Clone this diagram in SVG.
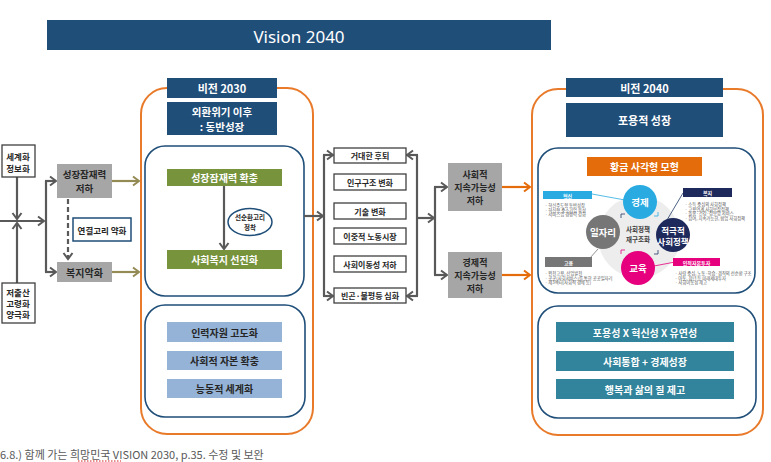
<svg xmlns="http://www.w3.org/2000/svg" width="771" height="462" viewBox="0 0 771 462">
<defs>
<style>
text{font-family:"Noto Sans CJK KR","Noto Sans",sans-serif;text-anchor:middle;dominant-baseline:central}
.w{fill:#fff;font-weight:bold}
.k{fill:#262626;font-weight:bold}
.navy{fill:#1f4e79}
.orange{fill:none;stroke:#e87a2a;stroke-width:2}
.inner{fill:#fff;stroke:#1f4e79;stroke-width:1.6}
.gray{fill:#a6a6a6}
.wbox{fill:#fff;stroke:#404040;stroke-width:1.3}
.green{fill:#77933c}
.lblue{fill:#95b3d7}
.teal{fill:#31849b}
.c{fill:none;stroke:#595959;stroke-width:2.2}
.ol{fill:none;stroke:#948a54;stroke-width:2.2}
.or{fill:none;stroke:#e46c0a;stroke-width:2.2}
.bul{font-size:4.3px;fill:#555;text-anchor:start;font-weight:normal}
.thin{fill:none;stroke-width:0.8}
</style>
<marker id="ag" markerUnits="userSpaceOnUse" markerWidth="12" markerHeight="12" refX="8" refY="6" orient="auto"><path d="M2,1.5 L8,6 L2,10.5" fill="none" stroke="#595959" stroke-width="2"/></marker>
<marker id="ao" markerUnits="userSpaceOnUse" markerWidth="12" markerHeight="12" refX="8" refY="6" orient="auto"><path d="M2,1.5 L8,6 L2,10.5" fill="none" stroke="#948a54" stroke-width="2"/></marker>
<marker id="ar" markerUnits="userSpaceOnUse" markerWidth="12" markerHeight="12" refX="8" refY="6" orient="auto"><path d="M2,1.5 L8,6 L2,10.5" fill="none" stroke="#e46c0a" stroke-width="2"/></marker>
</defs>
<rect width="771" height="462" fill="#fff"/>

<g id="title">
<rect x="47" y="20" width="504" height="30" class="navy"/>
<text x="299" y="36" style="font-family:'Noto Sans',sans-serif;font-size:17px;fill:#fff">Vision 2040</text>
</g>

<!-- frames -->
<g id="frame2030">
<rect x="141" y="88" width="172" height="346" rx="26" class="orange"/>
<rect x="145" y="146" width="159" height="150" rx="20" class="inner"/>
<rect x="145" y="305" width="160" height="112" rx="20" class="inner"/>
</g>
<g id="frame2040">
<rect x="532" y="89" width="231" height="346" rx="26" class="orange"/>
<rect x="538" y="148" width="217" height="145" rx="20" class="inner"/>
<rect x="538" y="306" width="218" height="112" rx="20" class="inner"/>
</g>

<!-- connectors -->
<g id="connectors">
<line x1="17" y1="177" x2="17" y2="219" class="c" marker-end="url(#ag)"/>
<line x1="17" y1="283" x2="17" y2="223" class="c" marker-end="url(#ag)"/>
<line x1="0" y1="221" x2="44" y2="221" class="c" marker-end="url(#ag)"/>
<line x1="46" y1="181" x2="46" y2="272" class="c"/>
<line x1="45" y1="181" x2="56" y2="181" class="c" marker-end="url(#ag)"/>
<line x1="45" y1="272" x2="56" y2="272" class="c" marker-end="url(#ag)"/>
<line x1="68" y1="199" x2="68" y2="259" class="c" stroke-dasharray="5,3" marker-end="url(#ag)"/>
<line x1="112" y1="181" x2="139" y2="181" class="ol" marker-end="url(#ao)"/>
<line x1="112" y1="272" x2="139" y2="272" class="ol" marker-end="url(#ao)"/>
<line x1="224" y1="186" x2="224" y2="249" class="c" marker-end="url(#ag)"/>
<line x1="304" y1="216" x2="323" y2="216" class="c" marker-end="url(#ag)"/>
<line x1="324" y1="155" x2="324" y2="296" class="c"/>
<line x1="323" y1="155" x2="333" y2="155" class="c" marker-end="url(#ag)"/>
<line x1="323" y1="296" x2="333" y2="296" class="c" marker-end="url(#ag)"/>
<line x1="417" y1="155" x2="417" y2="296" class="c"/>
<line x1="418" y1="155" x2="407" y2="155" class="c" marker-end="url(#ag)"/>
<line x1="418" y1="296" x2="407" y2="296" class="c" marker-end="url(#ag)"/>
<line x1="417" y1="218" x2="434" y2="218" class="c" marker-end="url(#ag)"/>
<line x1="435" y1="187" x2="435" y2="275" class="c"/>
<line x1="434" y1="187" x2="447" y2="187" class="c" marker-end="url(#ag)"/>
<line x1="434" y1="275" x2="447" y2="275" class="c" marker-end="url(#ag)"/>
<line x1="502" y1="187" x2="530" y2="187" class="or" marker-end="url(#ar)"/>
<line x1="502" y1="275" x2="530" y2="275" class="or" marker-end="url(#ar)"/>
</g>

<!-- left nodes -->
<g id="n-globalization">
<rect x="2" y="145" width="33" height="32" class="wbox"/>
<text x="18" y="156" class="k" style="font-size:8.5px">세계화</text>
<text x="18" y="168" class="k" style="font-size:8.5px">정보화</text>
</g>
<g id="n-aging">
<rect x="2" y="283" width="33" height="40" class="wbox"/>
<text x="18" y="292" class="k" style="font-size:8.5px">저출산</text>
<text x="18" y="303" class="k" style="font-size:8.5px">고령화</text>
<text x="18" y="314" class="k" style="font-size:8.5px">양극화</text>
</g>
<g id="n-growth-down">
<rect x="57" y="164" width="55" height="34" class="gray"/>
<text x="84.5" y="174" class="k" style="font-size:9.5px">성장잠재력</text>
<text x="84.5" y="188" class="k" style="font-size:9.5px">저하</text>
</g>
<g id="n-link">
<rect x="73" y="218" width="58" height="23" fill="#fff" stroke="#1f4e79" stroke-width="1.5"/>
<text x="102" y="229.5" class="k" style="font-size:8.5px">연결고리 약화</text>
</g>
<g id="n-welfare-down">
<rect x="57" y="262" width="55" height="20" class="gray"/>
<text x="84.5" y="272" class="k" style="font-size:10px">복지악화</text>
</g>

<!-- vision 2030 -->
<g id="n-v2030">
<rect x="167" y="78" width="110" height="20" class="navy"/>
<text x="222" y="88" class="w" style="font-size:11px">비전 2030</text>
</g>
<g id="n-v2030-sub">
<rect x="167" y="102" width="110" height="33" class="navy"/>
<text x="222" y="111" class="w" style="font-size:10.5px">외환위기 이후</text>
<text x="222" y="126.5" class="w" style="font-size:10.5px">: 동반성장</text>
</g>
<g id="n-growth-up">
<rect x="167" y="169" width="115" height="17" class="green"/>
<text x="224.5" y="177.5" class="w" style="font-size:10px">성장잠재력 확충</text>
</g>
<g id="n-virtuous">
<ellipse cx="250" cy="222" rx="22" ry="13.5" fill="#fff" stroke="#1f4e79" stroke-width="1.5"/>
<text x="250" y="217" class="k" style="font-size:6.5px">선순환고리</text>
<text x="250" y="227" class="k" style="font-size:6.5px">정착</text>
</g>
<g id="n-welfare-up">
<rect x="167" y="250" width="115" height="19" class="green"/>
<text x="224.5" y="259.5" class="w" style="font-size:10px">사회복지 선진화</text>
</g>
<g id="n-hr">
<rect x="167" y="322" width="115" height="20" class="lblue"/>
<text x="224.5" y="332" class="k" style="font-size:10px">인력자원 고도화</text>
</g>
<g id="n-social-capital">
<rect x="167" y="351" width="115" height="19" class="lblue"/>
<text x="224.5" y="360.5" class="k" style="font-size:10px">사회적 자본 확충</text>
</g>
<g id="n-active-global">
<rect x="167" y="379" width="115" height="19" class="lblue"/>
<text x="224.5" y="388.5" class="k" style="font-size:10px">능동적 세계화</text>
</g>

<!-- middle list -->
<g id="n-m1"><rect x="334" y="148" width="72" height="15" class="wbox"/><text x="370" y="155.5" class="k" style="font-size:8px">거대한 후퇴</text></g>
<g id="n-m2"><rect x="334" y="174" width="72" height="16" class="wbox"/><text x="370" y="182" class="k" style="font-size:8px">인구구조 변화</text></g>
<g id="n-m3"><rect x="334" y="203" width="72" height="16" class="wbox"/><text x="370" y="211" class="k" style="font-size:8px">기술 변화</text></g>
<g id="n-m4"><rect x="334" y="228" width="72" height="16" class="wbox"/><text x="370" y="236" class="k" style="font-size:8px">이중적 노동시장</text></g>
<g id="n-m5"><rect x="334" y="256" width="72" height="16" class="wbox"/><text x="370" y="264" class="k" style="font-size:8px">사회이동성 저하</text></g>
<g id="n-m6"><rect x="334" y="288" width="72" height="15" class="wbox"/><text x="370" y="295.5" class="k" style="font-size:8px">빈곤·불평등 심화</text></g>

<g id="n-social-sust">
<rect x="448" y="163" width="54" height="48" class="gray"/>
<text x="475" y="174" class="k" style="font-size:9px">사회적</text>
<text x="475" y="187" class="k" style="font-size:9px">지속가능성</text>
<text x="475" y="200" class="k" style="font-size:9px">저하</text>
</g>
<g id="n-econ-sust">
<rect x="448" y="252" width="54" height="46" class="gray"/>
<text x="475" y="262" class="k" style="font-size:9px">경제적</text>
<text x="475" y="275" class="k" style="font-size:9px">지속가능성</text>
<text x="475" y="288" class="k" style="font-size:9px">저하</text>
</g>

<!-- vision 2040 -->
<g id="n-v2040">
<rect x="566" y="78" width="157" height="19" class="navy"/>
<text x="644.5" y="87.5" class="w" style="font-size:11px">비전 2040</text>
</g>
<g id="n-inclusive">
<rect x="566" y="103" width="157" height="34" class="navy"/>
<text x="644.5" y="120" class="w" style="font-size:11px">포용적 성장</text>
</g>
<g id="n-golden">
<rect x="587" y="157" width="115" height="19" fill="#e46c0a"/>
<text x="644.5" y="166.5" class="w" style="font-size:10px">황금 사각형 모형</text>
<circle cx="639" cy="237" r="41" fill="#ededed"/>
<path d="M621,218 v-4 h4" class="thin" stroke="#1f3864" stroke-width="1.2"/>
<path d="M658,212 v4 h-4" class="thin" stroke="#29abe2" stroke-width="1.2"/>
<path d="M621,254 v-4 h4" class="thin" stroke="#e6007e" stroke-width="1.2"/>
<path d="M658,250 v4 h-4" class="thin" stroke="#1f3864" stroke-width="1.2"/>
<line x1="592" y1="194" x2="625" y2="200" class="thin" stroke="#29abe2"/>
<line x1="683" y1="193" x2="667" y2="220" class="thin" stroke="#1f3864"/>
<line x1="590" y1="258" x2="598" y2="249" class="thin" stroke="#767676"/>
<line x1="675" y1="262" x2="654" y2="266" class="thin" stroke="#e6007e"/>
<circle cx="640" cy="202" r="17" fill="#29abe2"/>
<text x="640" y="202" class="w" style="font-size:9.5px">경제</text>
<circle cx="603" cy="232" r="17" fill="#767676"/>
<text x="603" y="232" class="w" style="font-size:9.5px">일자리</text>
<circle cx="673" cy="235" r="17" fill="#1f2a5c"/>
<text x="673" y="229.5" class="w" style="font-size:8.5px">적극적</text>
<text x="673" y="240.5" class="w" style="font-size:8.5px">사회정책</text>
<circle cx="638" cy="268" r="17" fill="#e6007e"/>
<text x="638" y="268" class="w" style="font-size:9.5px">교육</text>
<text x="638" y="229" class="k" style="font-size:6.5px;fill:#404040">사회정책</text>
<text x="638" y="239" class="k" style="font-size:6.5px;fill:#404040">재구조화</text>
<rect x="543" y="191" width="49" height="8" fill="#29abe2"/>
<text x="567.5" y="195" class="w" style="font-size:5px">혁신</text>
<text x="545" y="205" class="bul">· 혁신주도형 동반성장</text>
<text x="545" y="209.5" class="bul">· 혁신형 중소기업 육성</text>
<text x="545" y="214" class="bul">· 서비스업 경쟁력 강화</text>
<rect x="683" y="188" width="49" height="9" fill="#1f2a5c"/>
<text x="707.5" y="192.5" class="w" style="font-size:5px">복지</text>
<text x="685" y="204" class="bul">· 소득 중심의 사회정책</text>
<text x="685" y="208.5" class="bul">· 고용연계 사회보장정책</text>
<text x="685" y="213" class="bul">· 돌봄·건강·정보망 서비스</text>
<text x="685" y="217.5" class="bul">· 참여, 지속가능한, 협업 사회정책</text>
<rect x="545" y="257" width="47" height="10" fill="#767676"/>
<text x="568.5" y="262" class="w" style="font-size:5px">고용</text>
<text x="545" y="273" class="bul">· 완전고용, 산업발전</text>
<text x="545" y="277.5" class="bul">· 공공(사회서비스)를 통한 공공일자리</text>
<text x="545" y="282" class="bul">· 제3섹터(사회적 경제 등)</text>
<rect x="673" y="258" width="47" height="8" fill="#e6007e"/>
<text x="696.5" y="262" class="w" style="font-size:5px">인적자본투자</text>
<text x="675" y="273" class="bul">· 사람 중심, 노동·학습·겸직의 선순환 구조</text>
<text x="675" y="277.5" class="bul">· 아동, 청년 등 미래세대투자</text>
<text x="675" y="282" class="bul">· 사회이동성 제고</text>
</g>
<g id="n-t1">
<rect x="556" y="322" width="178" height="20" class="teal"/>
<text x="645" y="332" class="w" style="font-size:10px">포용성 X 혁신성 X 유연성</text>
</g>
<g id="n-t2">
<rect x="556" y="351" width="178" height="20" class="teal"/>
<text x="645" y="361" class="w" style="font-size:10px">사회통합 + 경제성장</text>
</g>
<g id="n-t3">
<rect x="556" y="379" width="178" height="20" class="teal"/>
<text x="645" y="389" class="w" style="font-size:10px">행복과 삶의 질 제고</text>
</g>

<g id="caption">
<text x="0" y="454" style="font-size:11px;fill:#595959;text-anchor:start">6.8.)  함께 가는 희망민국 VISION 2030, p.35. 수정 및 보완</text>
<line x1="78" y1="461" x2="121" y2="461" stroke="#d02020" stroke-width="1" stroke-dasharray="1.5,1.5"/>
</g>
</svg>
